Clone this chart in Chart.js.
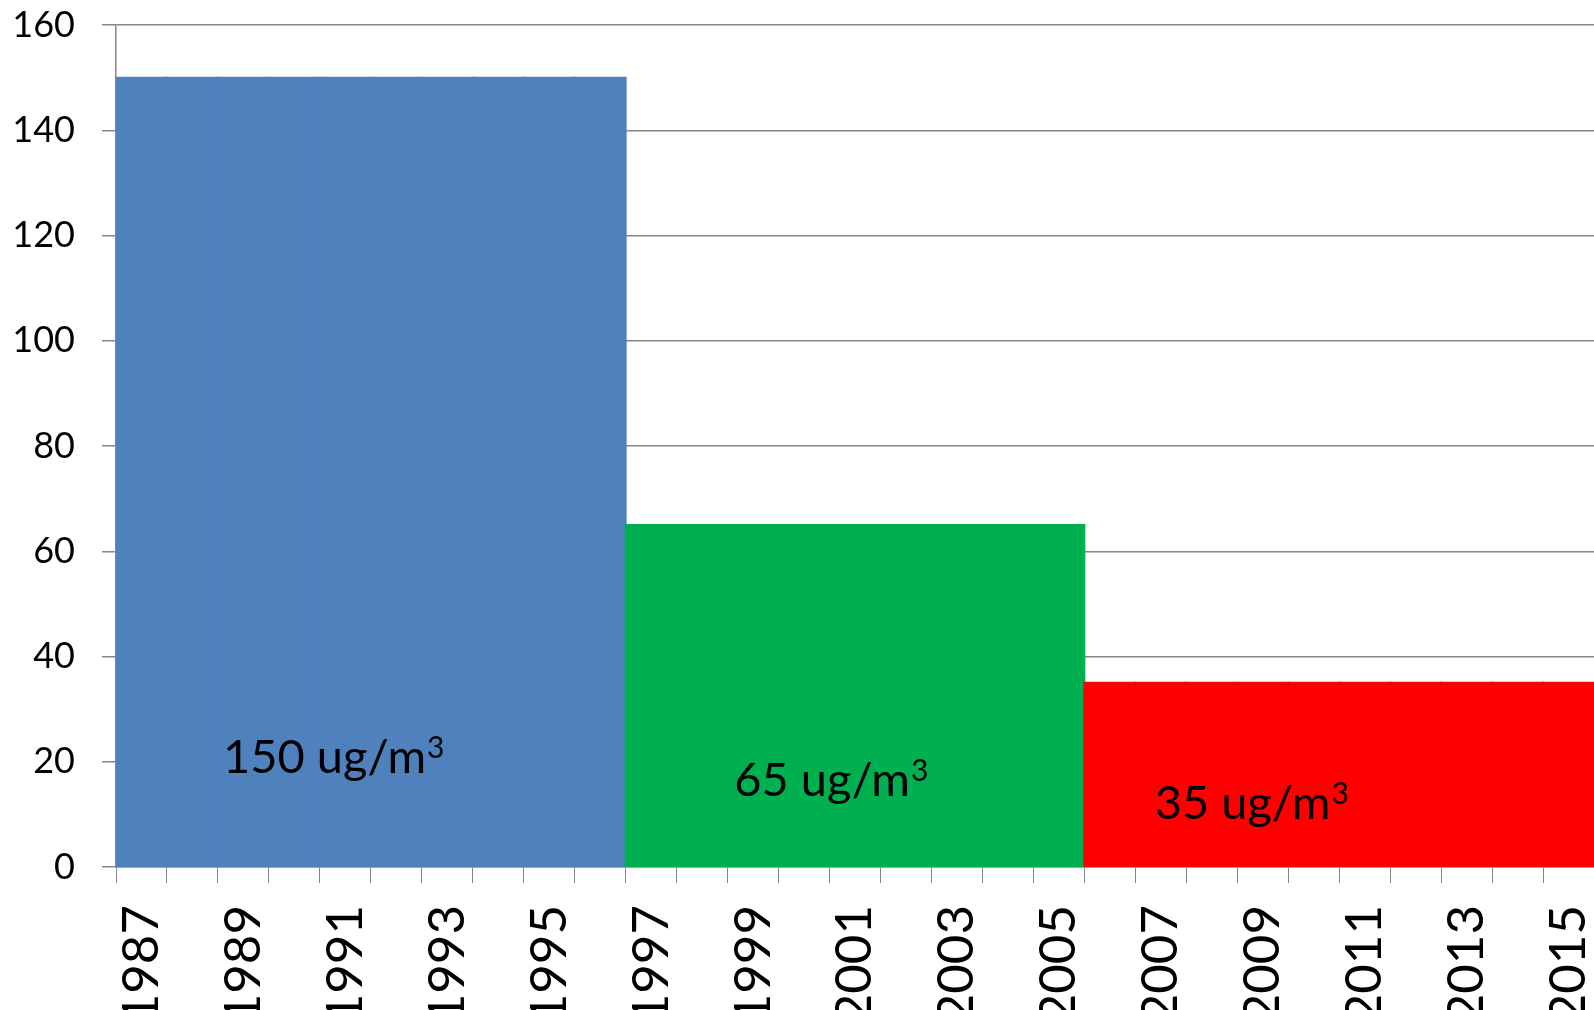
<!DOCTYPE html>
<html>
<head>
<meta charset="utf-8">
<script src="https://cdn.jsdelivr.net/npm/chart.js@4/dist/chart.umd.min.js"></script>
<style>
  html, body { margin: 0; padding: 0; background: #fff; }
  #wrap { width: 1594px; height: 1010px; }
</style>
</head>
<body>
<div id="wrap"><canvas id="limitChart"></canvas></div>
<script>
// data
const years = [1987, 1988, 1989, 1990, 1991, 1992, 1993, 1994, 1995, 1996,
               1997, 1998, 1999, 2000, 2001, 2002, 2003, 2004, 2005,
               2006, 2007, 2008, 2009, 2010, 2011, 2012, 2013, 2014, 2015];
const concentration = [150, 150, 150, 150, 150, 150, 150, 150, 150, 150,
                       65, 65, 65, 65, 65, 65, 65, 65, 65,
                       35, 35, 35, 35, 35, 35, 35, 35, 35, 35];
const limits = [150, 65, 35];
const yTicks = [0, 20, 40, 60, 80, 100, 120, 140, 160];

// labels inside the bars (year, value where the text starts)
const noteText = ["150 ug/m", "65 ug/m", "35 ug/m"];
const noteYear = [1988.6, 1998.63, 2006.88];
const noteValue = [17.9, 13.5, 9.1];

const limitColors = ["#4F81BD", "#00B050", "#FF0000"];
const gray = "#868686";
const font = "Lato, 'Open Sans', sans-serif";

const notesPlugin = {
    id: "notes",
    afterDatasetsDraw(chart) {
        const ctx = chart.ctx;
        const x = chart.scales.x;
        const y = chart.scales.y;
        ctx.save();
        ctx.fillStyle = "#000";
        ctx.textBaseline = "alphabetic";
        ctx.textAlign = "left";
        noteText.forEach((txt, i) => {
            const px = x.getPixelForValue(noteYear[i] - years[0]);
            const py = y.getPixelForValue(noteValue[i]);
            ctx.font = "47px " + font;
            ctx.fillText(txt, px, py);
            const w = ctx.measureText(txt).width;
            ctx.font = "30px " + font;
            ctx.fillText("3", px + w + 1, py - 15);
        });
        ctx.restore();
    }
};

new Chart("limitChart", {
    type: "bar",
    data: {
        labels: years,
        datasets: [{
            data: concentration,
            backgroundColor: concentration.map(v => limitColors[limits.indexOf(v)]),
            borderWidth: 0,
            inflateAmount: 1,
            barPercentage: 1,
            categoryPercentage: 1
        }]
    },
    options: {
        responsive: true,
        maintainAspectRatio: false,
        animation: false,
        layout: { padding: { top: 25, right: 0, left: 0, bottom: 0 } },
        plugins: {
            legend: { display: false },
            tooltip: { enabled: false }
        },
        scales: {
            x: {
                grid: {
                    offset: true,
                    drawOnChartArea: false,
                    drawTicks: true,
                    tickLength: 16,
                    color: gray
                },
                border: { color: gray, width: 1.5 },
                ticks: {
                    autoSkip: false,
                    minRotation: 90,
                    maxRotation: 90,
                    padding: 22,
                    color: "#000",
                    font: { family: font, size: 51 },
                    callback: function (val, idx) {
                        return idx % 2 === 0 ? String(years[idx]) : "";
                    }
                },
                afterFit: function (scale) {
                    scale.height = 143;
                    scale.paddingLeft = 0;
                    scale.paddingRight = 0;
                }
            },
            y: {
                min: 0,
                max: 160,
                afterBuildTicks: function (scale) {
                    scale.ticks = yTicks.map(v => ({ value: v }));
                },
                grid: {
                    color: gray,
                    lineWidth: 1.5,
                    drawTicks: true,
                    tickLength: 14
                },
                border: { color: gray, width: 1.5 },
                ticks: {
                    padding: 27,
                    color: "#000",
                    font: { family: font, size: 36 }
                },
                afterFit: function (scale) {
                    scale.width = 116;
                    scale.paddingTop = 0;
                    scale.paddingBottom = 0;
                }
            }
        }
    },
    plugins: [notesPlugin]
});
</script>
</body>
</html>
